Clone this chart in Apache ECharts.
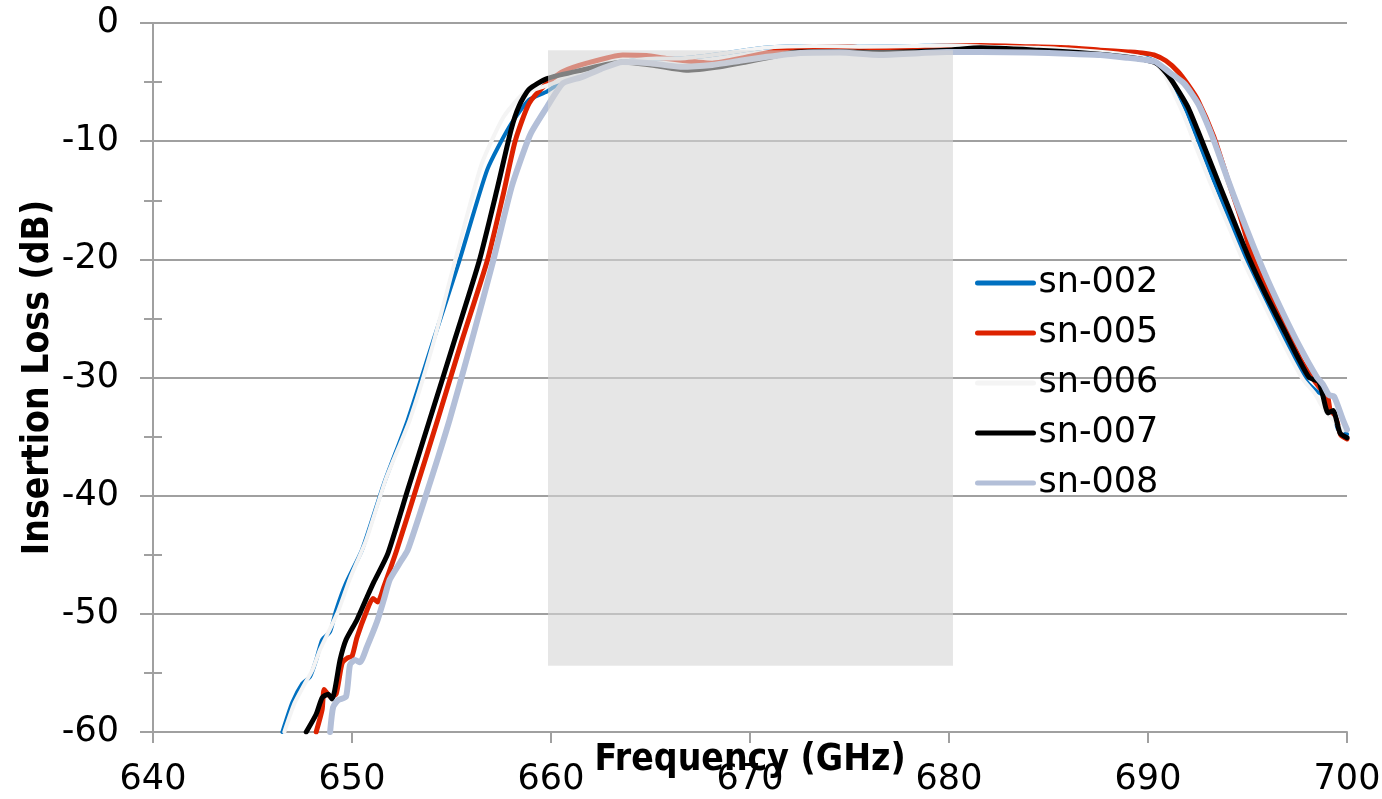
<!DOCTYPE html>
<html>
<head>
<meta charset="utf-8">
<script src="https://cdn.jsdelivr.net/npm/echarts@6/dist/echarts.min.js"></script>
<style>
html,body{margin:0;padding:0;background:#fff;}
#chart{width:1382px;height:799px;}
</style>
</head>
<body>
<div id="chart"></div>
<script>
// ---- data ----
const seriesNames = ['sn-002', 'sn-005', 'sn-006', 'sn-007', 'sn-008'];
const xTicks = [640, 650, 660, 670, 680, 690, 700];
const yTicks = [0, -10, -20, -30, -40, -50, -60];

const sn002_f = [646.5,647.0,647.5,647.9,648.2,648.5,648.9,649.2,649.7,650.5,651.6,652.8,654.1,655.4,656.8,657.9,658.9,659.8,660.6,661.5,662.6,664.0,665.3,666.5,668.6,670.7,673.2,675.5,678.2,679.9,682.0,684.5,686.5,688.0,689.0,689.8,690.4,690.9,691.3,691.9,692.4,693.3,694.2,694.9,695.8,696.7,697.4,698.0,698.5,698.8,699.0,699.3,699.55,700.0];
const sn002_db = [-60,-57.5,-55.9,-55.3,-53.9,-52.2,-51.5,-49.7,-47.4,-44.6,-39.0,-33.6,-26.8,-20.1,-12.4,-8.8,-6.5,-5.8,-4.9,-4.2,-3.6,-3.2,-3.0,-3.0,-2.6,-2.1,-1.95,-2.0,-1.95,-1.9,-2.0,-2.1,-2.3,-2.5,-2.7,-2.9,-3.3,-4.1,-5.3,-7.3,-9.4,-13.3,-17.1,-20.0,-23.2,-26.3,-28.6,-30.4,-31.2,-31.5,-33.0,-33.0,-34.4,-34.8];

const sn005_f = [648.2,648.5,648.6,648.9,649.2,649.5,649.8,650.0,650.25,650.75,651.05,651.3,651.6,652.25,653.3,654.3,655.5,656.8,657.6,658.2,658.9,659.8,660.6,661.8,663.6,664.8,665.8,668.1,669.8,671.5,673.2,674.9,676.5,678.2,679.9,681.6,684.0,686.0,687.6,689.0,689.8,690.3,690.9,691.5,692.0,692.5,693.3,694.0,694.6,695.25,696.0,696.9,697.7,698.25,698.7,699.0,699.2,699.45,699.7,700.0];
const sn005_db = [-60,-58.1,-56.4,-57.0,-56.8,-54.2,-53.7,-53.6,-52.0,-49.7,-48.7,-49.0,-47.7,-44.6,-39.0,-33.6,-27.0,-20.1,-14.5,-10.0,-6.8,-5.1,-4.1,-3.4,-2.7,-2.75,-3.0,-3.4,-2.9,-2.3,-2.0,-2.0,-2.2,-2.05,-1.95,-1.9,-2.0,-2.1,-2.3,-2.45,-2.55,-2.7,-3.2,-4.1,-5.2,-6.5,-9.6,-13.2,-16.2,-19.8,-22.7,-25.8,-28.6,-30.0,-31.0,-31.4,-33.2,-33.5,-34.9,-35.2];

const sn006_f = [646.6,647.1,647.6,648.0,648.4,648.8,649.3,649.9,650.7,651.7,652.9,654.0,655.2,656.5,657.6,658.6,659.6,660.6,661.5,662.6,664.0,665.3,666.5,668.6,670.7,673.2,675.5,678.2,679.9,682.0,684.5,686.5,688.0,689.0,689.7,690.3,690.8,691.2,691.8,692.3,693.1,694.0,694.7,695.6,696.5,697.2,697.8,698.4,698.8,699.2,699.8];
const sn006_db = [-60,-57.6,-56.0,-54.8,-53.0,-51.6,-49.8,-47.0,-43.8,-38.6,-33.6,-27.6,-20.0,-12.0,-8.0,-6.0,-5.4,-4.8,-4.2,-3.6,-3.2,-3.0,-3.0,-2.6,-2.1,-1.95,-2.0,-1.95,-1.9,-2.0,-2.1,-2.3,-2.5,-2.7,-2.9,-3.3,-4.3,-5.6,-7.8,-10.0,-13.4,-17.0,-19.8,-23.0,-26.1,-28.4,-30.2,-31.4,-32.6,-33.4,-34.5];

const sn007_f = [647.7,648.2,648.5,648.8,649.0,649.4,649.7,650.25,650.75,651.1,651.8,652.8,653.9,655.2,656.4,657.3,658.0,658.4,658.9,659.8,661.5,663.6,665.2,666.8,668.5,669.8,671.0,672.4,674.9,676.5,679.9,681.6,684.5,686.5,688.0,689.0,689.8,690.4,690.9,691.4,692.0,692.5,693.4,693.9,694.4,695.1,695.9,696.9,697.5,698.1,698.6,699.05,699.3,699.65,700.0];
const sn007_db = [-60,-58.5,-57.1,-56.8,-57.2,-53.9,-52.2,-50.5,-48.6,-47.3,-44.9,-39.5,-33.6,-26.6,-20.1,-14.0,-9.0,-7.0,-5.6,-4.7,-4.0,-3.3,-3.6,-4.0,-3.7,-3.3,-2.9,-2.45,-2.45,-2.5,-2.3,-2.1,-2.3,-2.5,-2.7,-2.9,-3.1,-3.4,-4.2,-5.4,-7.1,-9.1,-12.9,-15.0,-17.1,-20.0,-22.9,-26.2,-28.2,-30.0,-30.4,-33.0,-32.8,-34.7,-35.1];

const sn008_f = [648.9,649.05,649.3,649.7,649.9,650.15,650.4,650.75,651.25,651.6,651.9,652.4,652.8,653.9,654.9,656.0,657.1,658.0,658.6,659.0,659.8,660.6,661.5,662.5,663.6,665.0,666.5,668.1,669.5,670.7,672.4,674.5,676.5,678.5,679.9,681.6,684.0,686.0,687.6,689.0,690.0,690.4,691.1,691.8,692.2,692.6,693.3,694.0,694.6,695.3,696.0,696.8,697.6,698.5,698.8,699.1,699.35,699.8,700.0];
const sn008_db = [-60,-57.9,-57.3,-57.0,-54.3,-53.9,-54.1,-52.8,-50.7,-48.8,-47.1,-45.7,-44.6,-39.0,-33.6,-27.0,-20.1,-14.0,-11.0,-9.3,-7.1,-5.1,-4.6,-3.9,-3.3,-3.4,-3.7,-3.55,-3.2,-2.9,-2.55,-2.5,-2.7,-2.55,-2.45,-2.45,-2.5,-2.6,-2.7,-2.95,-3.15,-3.3,-4.2,-5.1,-6.0,-7.1,-9.9,-13.2,-15.9,-18.9,-21.7,-24.6,-27.3,-30.0,-30.6,-31.5,-31.6,-33.6,-34.4];

// shaded band [freq start, freq end], [dB top, dB bottom]
const bandF = [659.85, 680.2];
const bandDb = [-2.3, -54.4];

// ---- chart ----
const FONT = 'DejaVu Sans';
const TITLE_FONT = 'DejaVu Sans Condensed';
const pair = (f, d) => f.map((v, i) => [v, d[i]]);
const colors = ['#0070c0', '#dd2200', '#f4f4f4', '#000000', '#b3bfd8'];
const widths = [4, 5, 4, 5, 6];
const datasets = [pair(sn002_f, sn002_db), pair(sn005_f, sn005_db), pair(sn006_f, sn006_db), pair(sn007_f, sn007_db), pair(sn008_f, sn008_db)];

const series = seriesNames.map((n, i) => ({
  name: n, type: 'line', data: datasets[i], symbol: 'none', smooth: 0.2,
  color: colors[i],
  itemStyle: { color: colors[i] },
  lineStyle: { color: colors[i], width: widths[i], cap: 'round', join: 'round' },
  z: 2 + i, animation: false
}));
series.push({
  type: 'custom', z: 50, silent: true, animation: false,
  data: [[bandF[0], bandDb[0], bandF[1], bandDb[1]]],
  renderItem: function (params, api) {
    const p0 = api.coord([api.value(0), api.value(1)]);
    const p1 = api.coord([api.value(2), api.value(3)]);
    return {
      type: 'rect',
      shape: { x: p0[0], y: p0[1], width: p1[0] - p0[0], height: p1[1] - p0[1] },
      style: { fill: 'rgb(213,213,213)', opacity: 0.6 }
    };
  }
});

const axisGray = '#a0a0a0';
const chart = echarts.init(document.getElementById('chart'), null, { renderer: 'canvas' });
chart.setOption({
  backgroundColor: '#ffffff',
  animation: false,
  grid: { left: 153, right: 35, top: 23, bottom: 67, containLabel: false, outerBoundsMode: 'none' },
  legend: {
    data: seriesNames, orient: 'vertical', left: 975, top: 263, padding: 0,
    itemWidth: 56, itemHeight: 14, itemGap: 10,
    itemStyle: { opacity: 0 },
    lineStyle: { width: 5, cap: 'round' },
    textStyle: { fontFamily: FONT, fontSize: 35, color: '#000', lineHeight: 40 }
  },
  xAxis: {
    type: 'value', min: xTicks[0], max: xTicks[xTicks.length - 1], interval: 10,
    name: 'Frequency (GHz)', nameLocation: 'middle', nameGap: 10, nameMoveOverlap: false,
    nameTextStyle: { fontFamily: TITLE_FONT, fontWeight: 'bold', fontSize: 37, color: '#000' },
    axisLine: { show: true, onZero: false, lineStyle: { color: axisGray, width: 2 } },
    axisTick: { show: true, inside: false, length: 11, lineStyle: { color: axisGray, width: 2 } },
    axisLabel: { fontFamily: FONT, fontSize: 35, color: '#000', margin: 30 },
    splitLine: { show: false }
  },
  yAxis: [{
    type: 'value', min: yTicks[yTicks.length - 1], max: yTicks[0], interval: 10,
    name: 'Insertion Loss (dB)', nameLocation: 'middle', nameGap: 96, nameMoveOverlap: false,
    nameTextStyle: { fontFamily: TITLE_FONT, fontWeight: 'bold', fontSize: 37, color: '#000' },
    axisLine: { show: true, onZero: false, lineStyle: { color: axisGray, width: 2 } },
    axisTick: { show: true, inside: false, length: 13, lineStyle: { color: axisGray, width: 2 } },
    minorTick: { show: true, splitNumber: 2, length: 9, lineStyle: { color: axisGray, width: 2 } },
    axisLabel: { fontFamily: FONT, fontSize: 35, color: '#000', margin: 34 },
    splitLine: { show: true, lineStyle: { color: axisGray, width: 2 } }
  }, {
    type: 'value', min: yTicks[yTicks.length - 1], max: yTicks[0], interval: 10, position: 'left',
    axisLine: { show: false, onZero: false },
    axisTick: { show: true, inside: true, length: 9, lineStyle: { color: axisGray, width: 2 } },
    minorTick: { show: true, splitNumber: 2, length: 9, lineStyle: { color: axisGray, width: 2 } },
    axisLabel: { show: false }, splitLine: { show: false }
  }],
  series: series
});
</script>
</body>
</html>
